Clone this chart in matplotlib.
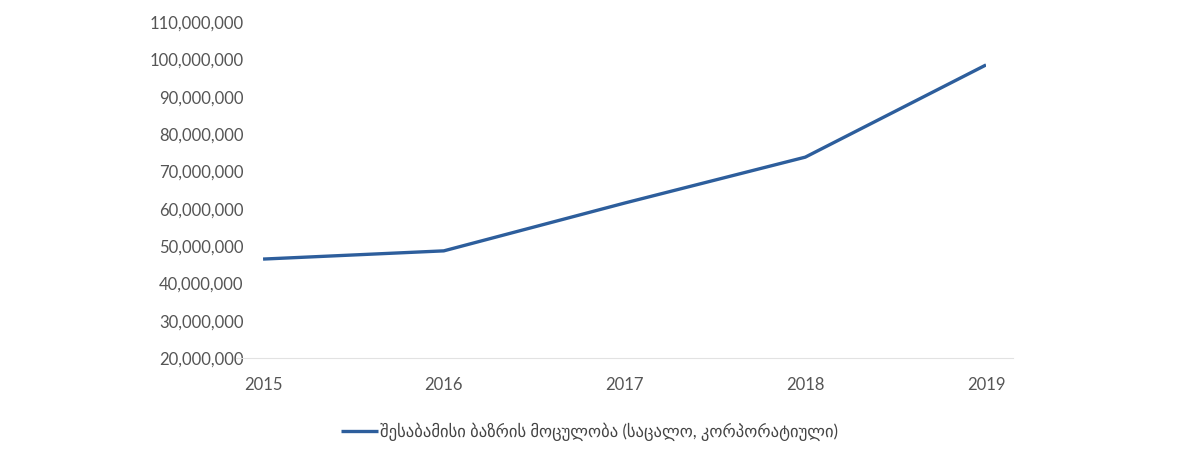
import matplotlib.pyplot as plt
from matplotlib.ticker import FuncFormatter

## DATA

years = [2015, 2016, 2017, 2018, 2019]
market_volume = [46500000, 48700000, 61500000, 73800000, 98500000]
series_label = 'შესაბამისი ბაზრის მოცულობა (საცალო, კორპორატიული)'
y_ticks = list(range(20000000, 110000001, 10000000))

## PLOTTING

plt.rcParams['font.family'] = ['Lato', 'DejaVu Sans']

fig = plt.figure(figsize=(11.86, 4.58), dpi=100)
ax = fig.add_axes([0.2218, 0.2183, 0.6096, 0.7337])

ax.plot(years, market_volume, color='#2d5e9c', linewidth=2.4, label=series_label,
        solid_capstyle='butt')

ax.set_xlim(2015, 2019)
ax.set_ylim(20000000, 110000000)
ax.set_yticks(y_ticks)
ax.set_xticks(years)
ax.yaxis.set_major_formatter(FuncFormatter(lambda v, p: f'{int(v):,}'))

for side in ['top', 'right', 'left']:
    ax.spines[side].set_visible(False)
ax.spines['bottom'].set_color('#e2e2e2')
ax.spines['bottom'].set_bounds(2014.85, 2019.15)
ax.tick_params(axis='both', length=0, labelsize=12, labelcolor='#555555')
ax.tick_params(axis='y', pad=14)
ax.tick_params(axis='x', pad=14)

fig.legend(loc='center', bbox_to_anchor=(0.497, 0.057), frameon=False,
           fontsize=12, labelcolor='#444444', handlelength=2.2, handletextpad=0.1)

plt.savefig('out.png', dpi=100)
